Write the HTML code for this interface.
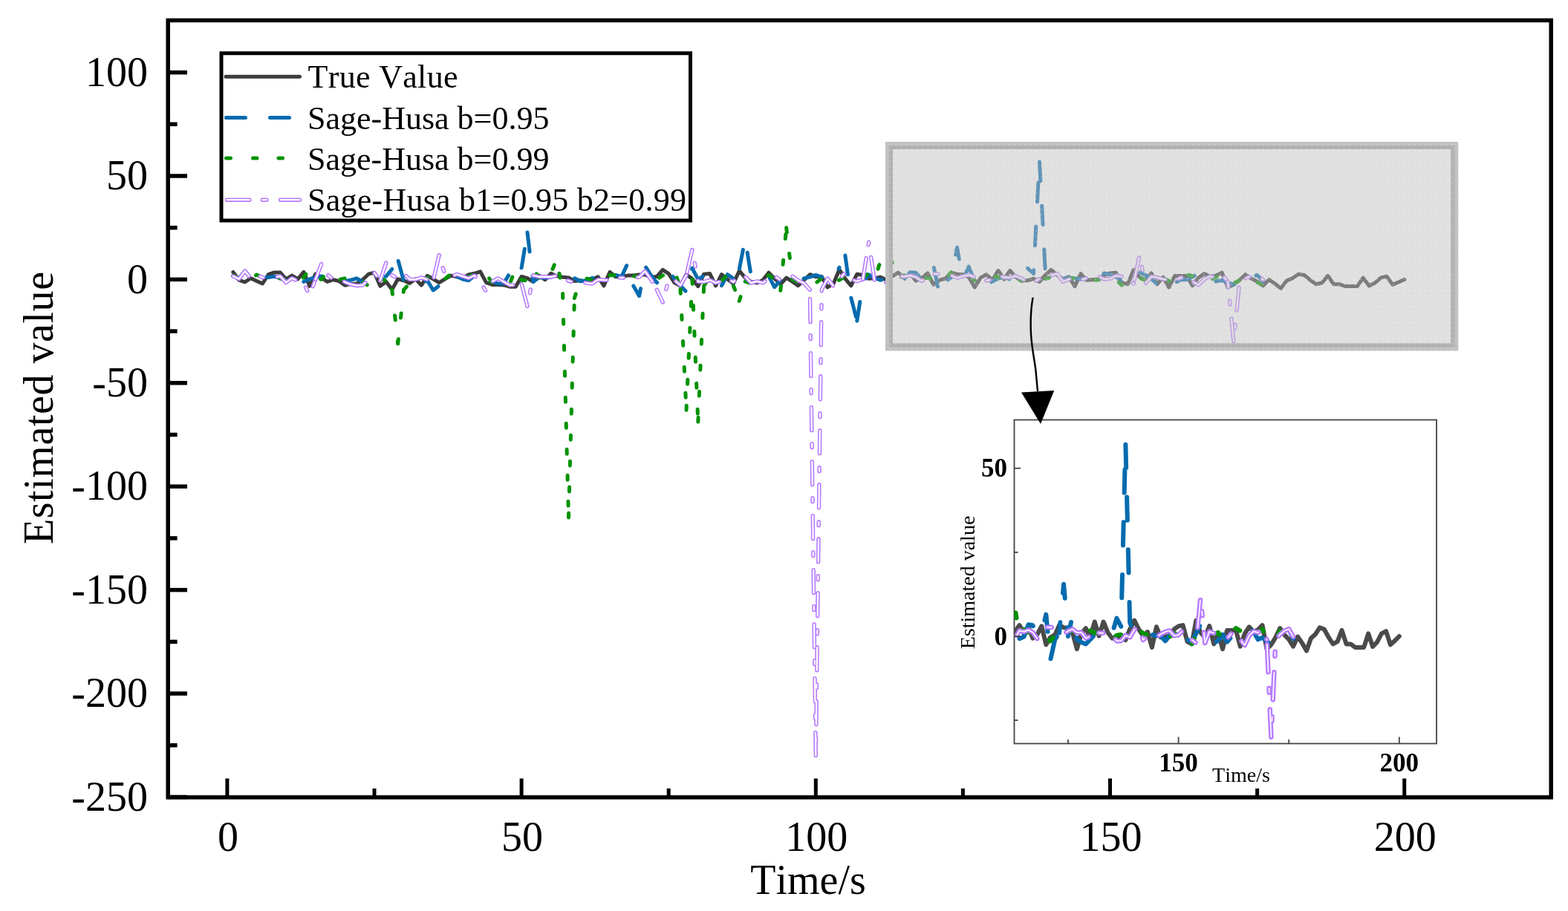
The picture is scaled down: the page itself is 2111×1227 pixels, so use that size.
<!DOCTYPE html><html><head><meta charset="utf-8"><title>Estimated value vs Time</title><style>html,body{margin:0;padding:0;background:#fff;width:2111px;height:1227px;overflow:hidden}svg{display:block}text{font-kerning:none}</style></head><body>
<svg width="2111" height="1227" viewBox="0 0 2111 1227">
<defs><clipPath id="cmain"><rect x="229" y="30" width="1857" height="1041"/></clipPath><clipPath id="cin"><rect x="1365.5" y="565.5" width="568.5" height="436"/></clipPath><pattern id="dots" x="1197.6" y="194.2" width="7.28" height="7.25" patternUnits="userSpaceOnUse"><rect x="0" y="0" width="1.6" height="1.6" fill="#fff" fill-opacity="0.3"/></pattern></defs>
<rect width="2111" height="1227" fill="#fff"/>
<g clip-path="url(#cmain)">
<polyline points="313.8,366.4 321.7,377.2 329.7,380.0 337.6,374.7 345.5,378.4 353.4,382.0 361.4,369.7 369.3,366.9 377.2,366.9 385.1,375.8 393.1,371.1 401.0,375.8 408.9,366.4 416.8,385.3 424.8,369.2 432.7,373.9 440.6,379.5 448.5,376.7 456.5,378.6 464.4,384.2 472.3,382.3 480.2,382.0 488.2,376.7 496.1,369.2 504.0,367.2 511.9,385.3 519.8,379.5 527.8,390.1 535.7,375.8 543.6,377.8 551.5,381.4 559.5,375.8 567.4,384.2 575.3,371.4 583.2,375.8 591.2,380.6 599.1,375.8 607.0,371.1 614.9,372.8 622.9,374.7 630.8,370.0 638.7,368.3 646.6,365.8 654.6,380.6 662.5,383.4 670.4,383.4 678.3,383.9 686.3,386.2 694.2,386.2 702.1,372.5 710.0,374.7 717.9,379.5 725.9,371.1 733.8,376.7 741.7,368.3 749.6,371.9 757.6,373.3 765.5,373.9 773.4,378.6 781.3,377.8 789.3,379.5 797.2,376.7 805.1,372.8 813.0,384.8 821.0,366.4 828.9,372.8 836.8,372.8 844.7,371.1 852.7,371.1 860.6,370.0 868.5,370.0 876.4,373.6 884.4,372.5 892.3,363.3 900.2,368.6 908.1,380.9 916.0,385.0 924.0,369.7 931.9,375.6 939.8,385.6 947.7,369.2 955.7,368.6 963.6,384.8 971.5,369.7 979.4,376.1 987.4,382.0 995.3,364.7 1003.2,374.2 1011.1,379.5 1019.1,380.9 1027.0,377.2 1034.9,367.2 1042.8,375.3 1050.8,382.8 1058.7,374.2 1066.6,379.2 1074.5,384.8 1082.5,377.2 1090.4,369.7 1098.3,372.8 1106.2,372.5 1114.1,387.0 1122.1,382.0 1130.0,363.0 1137.9,375.3 1145.8,384.8 1153.8,369.2 1161.7,370.5 1169.6,375.3 1177.5,374.7 1185.5,373.3 1193.4,377.2 1201.3,372.2 1209.2,367.2 1217.2,374.2 1225.1,368.6 1233.0,378.1 1240.9,375.0 1248.9,368.0 1256.8,383.4 1264.7,377.2 1272.6,375.3 1280.6,367.2 1288.5,369.2 1296.4,369.7 1304.3,373.3 1312.2,387.0 1320.2,374.2 1328.1,369.7 1336.0,377.2 1343.9,364.4 1351.9,376.1 1359.8,364.4 1367.7,373.3 1375.6,378.1 1383.6,377.8 1391.5,375.3 1399.4,379.5 1407.3,370.5 1415.3,363.3 1423.2,370.5 1431.1,376.1 1439.0,372.8 1447.0,385.6 1454.9,368.6 1462.8,377.2 1470.7,376.7 1478.7,376.1 1486.6,370.5 1494.5,368.0 1502.4,367.2 1510.3,380.9 1518.3,382.8 1526.2,363.3 1534.1,373.3 1542.0,377.2 1550.0,367.8 1557.9,382.8 1565.8,373.3 1573.7,387.0 1581.7,371.4 1589.6,371.4 1597.5,371.4 1605.4,384.8 1613.4,374.2 1621.3,368.6 1629.2,372.5 1637.1,371.1 1645.1,367.2 1653.0,387.0 1660.9,383.4 1668.8,377.2 1676.8,369.7 1684.7,375.3 1692.6,378.9 1700.5,384.8 1708.4,376.7 1716.4,382.0 1724.3,388.4 1732.2,378.1 1740.1,374.7 1748.1,369.2 1756.0,370.5 1763.9,377.2 1771.8,382.8 1779.8,380.9 1787.7,371.4 1795.6,382.8 1803.5,382.8 1811.5,385.6 1819.4,385.6 1827.3,385.6 1835.2,374.2 1843.2,385.0 1851.1,381.1 1859.0,374.2 1866.9,372.2 1874.9,383.4 1882.8,380.0 1890.7,376.4" fill="none" stroke="#3c3c3c" stroke-width="5.0" stroke-linejoin="round" stroke-linecap="round"/>
<polyline points="313.8,371.9 321.7,375.0 329.7,365.2 337.6,373.6 345.5,366.4 353.4,371.9 361.4,373.6 369.3,372.2 377.2,375.0 385.1,377.8 393.1,382.5 401.0,372.8 408.9,379.5 416.8,375.8 424.8,373.6 432.7,371.9 440.6,374.7 448.5,371.9 456.5,375.0 464.4,378.6 472.3,377.2 480.2,375.0 488.2,379.5 496.1,375.4 504.0,371.4 511.9,374.2 519.8,372.2 527.8,362.5" stroke="#036baf" stroke-width="5.0" fill="none" stroke-linejoin="round" stroke-linecap="round" stroke-dasharray="26.0 33.0" stroke-dashoffset="0.0"/>
<polyline points="527.8,362.5 535.7,349.6 543.6,378.6 551.5,379.8 559.5,381.2 567.4,382.1 575.3,377.8 583.2,390.9 591.2,384.8 599.1,369.6 607.0,367.5 614.9,372.2 622.9,376.0 630.8,377.8 638.7,371.6 646.6,370.0 654.6,374.0 662.5,378.4 670.4,382.2 678.3,381.4 686.3,368.0 694.2,373.6 702.1,360.8" stroke="#036baf" stroke-width="5.0" fill="none" stroke-linejoin="round" stroke-linecap="round" stroke-dasharray="26.0 33.0" stroke-dashoffset="41.9"/>
<polyline points="702.1,360.8 710.0,313.1" stroke="#036baf" stroke-width="5.0" fill="none" stroke-linejoin="round" stroke-linecap="round" stroke-dasharray="26.0 33.0" stroke-dashoffset="0.0"/>
<polyline points="710.0,313.1 717.9,379.2" stroke="#036baf" stroke-width="5.0" fill="none" stroke-linejoin="round" stroke-linecap="round" stroke-dasharray="26.0 33.0" stroke-dashoffset="0.0"/>
<polyline points="717.9,379.2 725.9,373.7 733.8,374.2 741.7,373.4 749.6,371.0 757.6,371.8 765.5,370.7 773.4,374.6 781.3,378.8 789.3,377.7 797.2,374.6 805.1,370.8 813.0,374.9 821.0,375.5 828.9,370.3 836.8,372.6 844.7,355.5 852.7,384.8 860.6,398.7 868.5,358.3 876.4,370.8 884.4,380.9 892.3,367.0 900.2,365.1 908.1,375.3 916.0,384.8 924.0,393.1 931.9,361.1 939.8,376.4 947.7,371.3 955.7,369.0 963.6,378.8 971.5,384.8 979.4,369.6 987.4,375.1 995.3,362.5" stroke="#036baf" stroke-width="5.0" fill="none" stroke-linejoin="round" stroke-linecap="round" stroke-dasharray="26.0 33.0" stroke-dashoffset="0.0"/>
<polyline points="995.3,362.5 1003.2,322.0 1011.1,370.8 1019.1,369.1 1027.0,373.5 1034.9,372.0 1042.8,386.7 1050.8,377.2 1058.7,379.8 1066.6,376.0 1074.5,376.1 1082.5,374.9 1090.4,373.1 1098.3,370.4 1106.2,373.0 1114.1,378.2 1122.1,376.6 1130.0,360.2" stroke="#036baf" stroke-width="5.0" fill="none" stroke-linejoin="round" stroke-linecap="round" stroke-dasharray="26.0 33.0" stroke-dashoffset="58.4"/>
<polyline points="1130.0,360.2 1137.9,344.1" stroke="#036baf" stroke-width="5.0" fill="none" stroke-linejoin="round" stroke-linecap="round" stroke-dasharray="26.0 33.0" stroke-dashoffset="32.0"/>
<polyline points="1137.9,344.1 1145.8,401.2" stroke="#036baf" stroke-width="5.0" fill="none" stroke-linejoin="round" stroke-linecap="round" stroke-dasharray="26.0 33.0" stroke-dashoffset="0.0"/>
<polyline points="1145.8,401.2 1153.8,432.2" stroke="#036baf" stroke-width="5.0" fill="none" stroke-linejoin="round" stroke-linecap="round" stroke-dasharray="26.0 33.0" stroke-dashoffset="0.0"/>
<polyline points="1153.8,432.2 1161.7,380.6 1169.6,369.9 1177.5,374.4 1185.5,377.3 1193.4,374.3 1201.3,374.4 1209.2,378.4 1217.2,376.7 1225.1,366.7 1233.0,367.3 1240.9,376.3 1248.9,373.6 1256.8,358.3 1264.7,395.9 1272.6,379.2 1280.6,373.6" stroke="#036baf" stroke-width="5.0" fill="none" stroke-linejoin="round" stroke-linecap="round" stroke-dasharray="26.0 33.0" stroke-dashoffset="0.0"/>
<polyline points="1280.6,373.6 1288.5,333.2 1296.4,376.4 1304.3,359.1 1312.2,379.2 1320.2,381.3 1328.1,382.8 1336.0,379.2 1343.9,375.0 1351.9,373.3 1359.8,376.4 1367.7,377.9 1375.6,374.2 1383.6,361.3 1391.5,368.3" stroke="#036baf" stroke-width="5.0" fill="none" stroke-linejoin="round" stroke-linecap="round" stroke-dasharray="26.0 33.0" stroke-dashoffset="27.8"/>
<polyline points="1391.5,368.3 1399.4,215.5 1407.3,365.2 1415.3,373.6 1423.2,371.7 1431.1,375.2 1439.0,374.1 1447.0,375.1 1454.9,375.9 1462.8,376.1 1470.7,380.3 1478.7,375.9 1486.6,367.9 1494.5,369.6 1502.4,373.0 1510.3,378.9 1518.3,381.8 1526.2,373.7 1534.1,366.6 1542.0,370.4 1550.0,375.4 1557.9,383.0 1565.8,379.6 1573.7,374.9 1581.7,381.1 1589.6,376.8 1597.5,376.8 1605.4,373.1 1613.4,367.8 1621.3,369.9 1629.2,372.3 1637.1,379.0 1645.1,377.5 1653.0,380.5 1660.9,383.4 1668.8,382.0 1676.8,381.6 1684.7,373.6 1692.6,370.4 1700.5,378.4" stroke="#036baf" stroke-width="5.0" fill="none" stroke-linejoin="round" stroke-linecap="round" stroke-dasharray="26.0 33.0" stroke-dashoffset="21.5"/>
<polyline points="313.8,371.1 321.7,375.0 329.7,372.2 337.6,376.4 345.5,370.0 353.4,373.6 361.4,374.7 369.3,371.1 377.2,375.0 385.1,376.4 393.1,378.6 401.0,380.6 408.9,373.6 416.8,362.5 424.8,373.6 432.7,376.4 440.6,366.4 448.5,373.6 456.5,376.4 464.4,375.0 472.3,380.6 480.2,376.4 488.2,379.2 496.1,385.3 504.0,370.7 511.9,374.2 519.8,378.4 527.8,390.3" stroke="#009200" stroke-width="5.0" fill="none" stroke-linejoin="round" stroke-linecap="round" stroke-dasharray="6.0 29.0" stroke-dashoffset="0.0"/>
<polyline points="527.8,390.3 535.7,462.8" stroke="#009200" stroke-width="5.0" fill="none" stroke-linejoin="round" stroke-linecap="round" stroke-dasharray="6.0 29.0" stroke-dashoffset="0.0"/>
<polyline points="535.7,462.8 543.6,390.3" stroke="#009200" stroke-width="5.0" fill="none" stroke-linejoin="round" stroke-linecap="round" stroke-dasharray="6.0 29.0" stroke-dashoffset="0.0"/>
<polyline points="543.6,390.3 551.5,381.4 559.5,372.3 567.4,374.3 575.3,375.1 583.2,368.2 591.2,375.2 599.1,375.7 607.0,368.9 614.9,371.4 622.9,376.9 630.8,372.8 638.7,369.0 646.6,365.5 654.6,368.6 662.5,381.1 670.4,383.0 678.3,383.3 686.3,382.2 694.2,361.6 702.1,377.3 710.0,377.9 717.9,361.9 725.9,374.6 733.8,363.9 741.7,368.0 749.6,348.5 757.6,395.4" stroke="#009200" stroke-width="5.0" fill="none" stroke-linejoin="round" stroke-linecap="round" stroke-dasharray="6.0 29.0" stroke-dashoffset="0.0"/>
<polyline points="757.6,395.4 765.5,697.1" stroke="#009200" stroke-width="5.0" fill="none" stroke-linejoin="round" stroke-linecap="round" stroke-dasharray="6.0 29.0" stroke-dashoffset="0.0"/>
<polyline points="765.5,697.1 773.4,401.5" stroke="#009200" stroke-width="5.0" fill="none" stroke-linejoin="round" stroke-linecap="round" stroke-dasharray="6.0 29.0" stroke-dashoffset="0.0"/>
<polyline points="773.4,401.5 781.3,376.4 789.3,375.1 797.2,376.9 805.1,377.8 813.0,379.0 821.0,370.4 828.9,370.9 836.8,376.0 844.7,374.2 852.7,371.8 860.6,372.9 868.5,375.7 876.4,376.4 884.4,376.1 892.3,370.9 900.2,368.6 908.1,363.0 916.0,389.5" stroke="#009200" stroke-width="5.0" fill="none" stroke-linejoin="round" stroke-linecap="round" stroke-dasharray="6.0 29.0" stroke-dashoffset="0.0"/>
<polyline points="916.0,389.5 924.0,552.3" stroke="#009200" stroke-width="5.0" fill="none" stroke-linejoin="round" stroke-linecap="round" stroke-dasharray="6.0 29.0" stroke-dashoffset="0.0"/>
<polyline points="924.0,552.3 931.9,376.4" stroke="#009200" stroke-width="5.0" fill="none" stroke-linejoin="round" stroke-linecap="round" stroke-dasharray="6.0 29.0" stroke-dashoffset="0.0"/>
<polyline points="931.9,376.4 939.8,568.2" stroke="#009200" stroke-width="5.0" fill="none" stroke-linejoin="round" stroke-linecap="round" stroke-dasharray="6.0 29.0" stroke-dashoffset="0.0"/>
<polyline points="939.8,568.2 947.7,384.8" stroke="#009200" stroke-width="5.0" fill="none" stroke-linejoin="round" stroke-linecap="round" stroke-dasharray="6.0 29.0" stroke-dashoffset="0.0"/>
<polyline points="947.7,384.8 955.7,373.2 963.6,380.8 971.5,378.2 979.4,370.1 987.4,384.8" stroke="#009200" stroke-width="5.0" fill="none" stroke-linejoin="round" stroke-linecap="round" stroke-dasharray="6.0 29.0" stroke-dashoffset="0.0"/>
<polyline points="987.4,384.8 995.3,405.4" stroke="#009200" stroke-width="5.0" fill="none" stroke-linejoin="round" stroke-linecap="round" stroke-dasharray="6.0 29.0" stroke-dashoffset="0.0"/>
<polyline points="995.3,405.4 1003.2,379.2" stroke="#009200" stroke-width="5.0" fill="none" stroke-linejoin="round" stroke-linecap="round" stroke-dasharray="6.0 29.0" stroke-dashoffset="0.0"/>
<polyline points="1003.2,379.2 1011.1,381.7 1019.1,381.8 1027.0,374.6 1034.9,370.6 1042.8,376.4 1050.8,391.2" stroke="#009200" stroke-width="5.0" fill="none" stroke-linejoin="round" stroke-linecap="round" stroke-dasharray="6.0 29.0" stroke-dashoffset="0.0"/>
<polyline points="1050.8,391.2 1058.7,306.7" stroke="#009200" stroke-width="5.0" fill="none" stroke-linejoin="round" stroke-linecap="round" stroke-dasharray="6.0 29.0" stroke-dashoffset="0.0"/>
<polyline points="1058.7,306.7 1066.6,376.4" stroke="#009200" stroke-width="5.0" fill="none" stroke-linejoin="round" stroke-linecap="round" stroke-dasharray="6.0 29.0" stroke-dashoffset="0.0"/>
<polyline points="1066.6,376.4 1074.5,380.2 1082.5,382.1 1090.4,383.0 1098.3,381.1 1106.2,375.1 1114.1,375.3 1122.1,381.9 1130.0,377.1 1137.9,372.3 1145.8,373.8 1153.8,375.3 1161.7,373.7 1169.6,368.1 1177.5,376.4 1185.5,351.3 1193.4,340.2 1201.3,354.1 1209.2,376.4 1217.2,370.6 1225.1,373.7 1233.0,375.9 1240.9,375.6 1248.9,374.2 1256.8,377.2 1264.7,380.3 1272.6,375.3 1280.6,366.8 1288.5,370.0 1296.4,372.4 1304.3,371.1 1312.2,377.6 1320.2,378.8 1328.1,373.7 1336.0,371.6 1343.9,373.6 1351.9,373.3 1359.8,371.0 1367.7,375.2 1375.6,378.4 1383.6,375.6 1391.5,374.9 1399.4,376.2 1407.3,375.5 1415.3,373.0 1423.2,369.8 1431.1,374.3 1439.0,374.9 1447.0,374.6 1454.9,376.4 1462.8,375.4 1470.7,377.7 1478.7,376.9 1486.6,374.6 1494.5,372.7 1502.4,376.2 1510.3,384.3 1518.3,383.3 1526.2,375.0 1534.1,374.5 1542.0,377.2 1550.0,377.0 1557.9,374.5 1565.8,373.5 1573.7,378.6 1581.7,380.5 1589.6,373.8 1597.5,369.6 1605.4,371.9 1613.4,372.3 1621.3,373.2 1629.2,377.7 1637.1,373.4 1645.1,370.5 1653.0,378.3 1660.9,381.6 1668.8,377.5 1676.8,372.1 1684.7,375.1 1692.6,380.4 1700.5,384.6" stroke="#009200" stroke-width="5.0" fill="none" stroke-linejoin="round" stroke-linecap="round" stroke-dasharray="6.0 29.0" stroke-dashoffset="0.0"/>
<polyline points="313.8,371.9 321.7,375.8 329.7,365.0 337.6,374.7 345.5,370.0 353.4,373.9 361.4,372.2 369.3,373.9 377.2,371.9 385.1,380.6 393.1,374.7 401.0,378.6 408.9,382.0 416.8,397.3 424.8,376.4" stroke="#b87bff" stroke-width="5.4" fill="none" stroke-linejoin="round" stroke-linecap="round" stroke-dasharray="31.0 18.0 5.0 19.0" stroke-dashoffset="0.0"/>
<polyline points="313.8,371.9 321.7,375.8 329.7,365.0 337.6,374.7 345.5,370.0 353.4,373.9 361.4,372.2 369.3,373.9 377.2,371.9 385.1,380.6 393.1,374.7 401.0,378.6 408.9,382.0 416.8,397.3 424.8,376.4" stroke="#fff" stroke-width="2.2" fill="none" stroke-linejoin="round" stroke-linecap="round" stroke-dasharray="31.0 18.0 5.0 19.0" stroke-dashoffset="0.0"/>
<polyline points="424.8,376.4 432.7,355.5 440.6,370.0 448.5,376.1 456.5,376.0 464.4,379.9 472.3,383.0 480.2,384.7 488.2,384.1 496.1,376.4 504.0,367.4 511.9,377.8" stroke="#b87bff" stroke-width="5.4" fill="none" stroke-linejoin="round" stroke-linecap="round" stroke-dasharray="31.0 18.0 5.0 19.0" stroke-dashoffset="8.6"/>
<polyline points="424.8,376.4 432.7,355.5 440.6,370.0 448.5,376.1 456.5,376.0 464.4,379.9 472.3,383.0 480.2,384.7 488.2,384.1 496.1,376.4 504.0,367.4 511.9,377.8" stroke="#fff" stroke-width="2.2" fill="none" stroke-linejoin="round" stroke-linecap="round" stroke-dasharray="31.0 18.0 5.0 19.0" stroke-dashoffset="8.6"/>
<polyline points="511.9,377.8 519.8,354.1 527.8,370.8 535.7,375.2 543.6,368.6 551.5,376.3 559.5,376.4 567.4,373.9 575.3,376.5 583.2,377.8" stroke="#b87bff" stroke-width="5.4" fill="none" stroke-linejoin="round" stroke-linecap="round" stroke-dasharray="31.0 18.0 5.0 19.0" stroke-dashoffset="6.0"/>
<polyline points="511.9,377.8 519.8,354.1 527.8,370.8 535.7,375.2 543.6,368.6 551.5,376.3 559.5,376.4 567.4,373.9 575.3,376.5 583.2,377.8" stroke="#fff" stroke-width="2.2" fill="none" stroke-linejoin="round" stroke-linecap="round" stroke-dasharray="31.0 18.0 5.0 19.0" stroke-dashoffset="6.0"/>
<polyline points="583.2,377.8 591.2,343.5 599.1,370.8 607.0,372.9 614.9,369.4 622.9,372.1 630.8,374.8 638.7,371.1 646.6,379.2 654.6,393.1 662.5,379.2 670.4,374.9 678.3,379.5 686.3,384.1 694.2,383.7 702.1,382.0" stroke="#b87bff" stroke-width="5.4" fill="none" stroke-linejoin="round" stroke-linecap="round" stroke-dasharray="31.0 18.0 5.0 19.0" stroke-dashoffset="68.8"/>
<polyline points="583.2,377.8 591.2,343.5 599.1,370.8 607.0,372.9 614.9,369.4 622.9,372.1 630.8,374.8 638.7,371.1 646.6,379.2 654.6,393.1 662.5,379.2 670.4,374.9 678.3,379.5 686.3,384.1 694.2,383.7 702.1,382.0" stroke="#fff" stroke-width="2.2" fill="none" stroke-linejoin="round" stroke-linecap="round" stroke-dasharray="31.0 18.0 5.0 19.0" stroke-dashoffset="68.8"/>
<polyline points="702.1,382.0 710.0,412.6 717.9,370.8 725.9,372.8 733.8,372.7 741.7,373.2 749.6,371.1 757.6,374.3 765.5,378.3 773.4,380.4 781.3,379.1 789.3,381.1 797.2,382.1 805.1,376.7 813.0,377.2 821.0,377.3 828.9,374.5 836.8,373.9 844.7,374.8 852.7,374.3 860.6,373.2 868.5,365.2 876.4,376.4 884.4,390.3" stroke="#b87bff" stroke-width="5.4" fill="none" stroke-linejoin="round" stroke-linecap="round" stroke-dasharray="31.0 18.0 5.0 19.0" stroke-dashoffset="72.3"/>
<polyline points="702.1,382.0 710.0,412.6 717.9,370.8 725.9,372.8 733.8,372.7 741.7,373.2 749.6,371.1 757.6,374.3 765.5,378.3 773.4,380.4 781.3,379.1 789.3,381.1 797.2,382.1 805.1,376.7 813.0,377.2 821.0,377.3 828.9,374.5 836.8,373.9 844.7,374.8 852.7,374.3 860.6,373.2 868.5,365.2 876.4,376.4 884.4,390.3" stroke="#fff" stroke-width="2.2" fill="none" stroke-linejoin="round" stroke-linecap="round" stroke-dasharray="31.0 18.0 5.0 19.0" stroke-dashoffset="72.3"/>
<polyline points="884.4,390.3 892.3,407.1 900.2,376.4 908.1,377.1 916.0,384.3 924.0,370.8" stroke="#b87bff" stroke-width="5.4" fill="none" stroke-linejoin="round" stroke-linecap="round" stroke-dasharray="31.0 18.0 5.0 19.0" stroke-dashoffset="12.5"/>
<polyline points="884.4,390.3 892.3,407.1 900.2,376.4 908.1,377.1 916.0,384.3 924.0,370.8" stroke="#fff" stroke-width="2.2" fill="none" stroke-linejoin="round" stroke-linecap="round" stroke-dasharray="31.0 18.0 5.0 19.0" stroke-dashoffset="12.5"/>
<polyline points="924.0,370.8 931.9,336.5 939.8,379.2 947.7,379.6 955.7,377.3 963.6,381.0 971.5,378.6 979.4,375.7 987.4,379.7 995.3,370.7 1003.2,372.5 1011.1,381.1 1019.1,378.9 1027.0,381.0 1034.9,374.9 1042.8,371.6 1050.8,377.4 1058.7,375.2 1066.6,371.9 1074.5,377.6 1082.5,381.5 1090.4,390.3" stroke="#b87bff" stroke-width="5.4" fill="none" stroke-linejoin="round" stroke-linecap="round" stroke-dasharray="31.0 18.0 5.0 19.0" stroke-dashoffset="68.8"/>
<polyline points="924.0,370.8 931.9,336.5 939.8,379.2 947.7,379.6 955.7,377.3 963.6,381.0 971.5,378.6 979.4,375.7 987.4,379.7 995.3,370.7 1003.2,372.5 1011.1,381.1 1019.1,378.9 1027.0,381.0 1034.9,374.9 1042.8,371.6 1050.8,377.4 1058.7,375.2 1066.6,371.9 1074.5,377.6 1082.5,381.5 1090.4,390.3" stroke="#fff" stroke-width="2.2" fill="none" stroke-linejoin="round" stroke-linecap="round" stroke-dasharray="31.0 18.0 5.0 19.0" stroke-dashoffset="68.8"/>
<polyline points="1090.4,390.3 1098.3,1017.7 1106.2,390.3 1114.1,375.0 1122.1,385.5 1130.0,376.3 1137.9,366.8 1145.8,376.4 1153.8,378.7 1161.7,376.4" stroke="#b87bff" stroke-width="5.4" fill="none" stroke-linejoin="round" stroke-linecap="round" stroke-dasharray="31.0 18.0 5.0 19.0" stroke-dashoffset="60.6"/>
<polyline points="1090.4,390.3 1098.3,1017.7 1106.2,390.3 1114.1,375.0 1122.1,385.5 1130.0,376.3 1137.9,366.8 1145.8,376.4 1153.8,378.7 1161.7,376.4" stroke="#fff" stroke-width="2.2" fill="none" stroke-linejoin="round" stroke-linecap="round" stroke-dasharray="31.0 18.0 5.0 19.0" stroke-dashoffset="60.6"/>
<polyline points="1161.7,376.4 1169.6,326.2 1177.5,379.2 1185.5,377.9 1193.4,380.8 1201.3,377.9 1209.2,371.6 1217.2,372.7 1225.1,371.1 1233.0,373.1 1240.9,378.5 1248.9,372.3 1256.8,368.9 1264.7,368.9 1272.6,369.5 1280.6,370.9 1288.5,374.4 1296.4,372.1 1304.3,370.4 1312.2,373.3 1320.2,373.2 1328.1,378.0 1336.0,376.5 1343.9,370.3 1351.9,373.7 1359.8,373.7 1367.7,371.7 1375.6,375.1 1383.6,380.4 1391.5,380.2 1399.4,375.7 1407.3,377.2 1415.3,370.9 1423.2,368.5 1431.1,379.4 1439.0,376.1 1447.0,375.0 1454.9,377.3 1462.8,374.6 1470.7,372.6 1478.7,371.8 1486.6,376.0 1494.5,375.3 1502.4,371.5 1510.3,372.3 1518.3,379.3 1526.2,382.0" stroke="#b87bff" stroke-width="5.4" fill="none" stroke-linejoin="round" stroke-linecap="round" stroke-dasharray="31.0 18.0 5.0 19.0" stroke-dashoffset="1.8"/>
<polyline points="1161.7,376.4 1169.6,326.2 1177.5,379.2 1185.5,377.9 1193.4,380.8 1201.3,377.9 1209.2,371.6 1217.2,372.7 1225.1,371.1 1233.0,373.1 1240.9,378.5 1248.9,372.3 1256.8,368.9 1264.7,368.9 1272.6,369.5 1280.6,370.9 1288.5,374.4 1296.4,372.1 1304.3,370.4 1312.2,373.3 1320.2,373.2 1328.1,378.0 1336.0,376.5 1343.9,370.3 1351.9,373.7 1359.8,373.7 1367.7,371.7 1375.6,375.1 1383.6,380.4 1391.5,380.2 1399.4,375.7 1407.3,377.2 1415.3,370.9 1423.2,368.5 1431.1,379.4 1439.0,376.1 1447.0,375.0 1454.9,377.3 1462.8,374.6 1470.7,372.6 1478.7,371.8 1486.6,376.0 1494.5,375.3 1502.4,371.5 1510.3,372.3 1518.3,379.3 1526.2,382.0" stroke="#fff" stroke-width="2.2" fill="none" stroke-linejoin="round" stroke-linecap="round" stroke-dasharray="31.0 18.0 5.0 19.0" stroke-dashoffset="1.8"/>
<polyline points="1526.2,382.0 1534.1,344.3 1542.0,382.0 1550.0,372.5 1557.9,373.7 1565.8,375.9 1573.7,377.0 1581.7,378.2 1589.6,374.0 1597.5,372.2 1605.4,379.1 1613.4,383.8 1621.3,375.9 1629.2,372.3 1637.1,373.3 1645.1,370.1 1653.0,379.2" stroke="#b87bff" stroke-width="5.4" fill="none" stroke-linejoin="round" stroke-linecap="round" stroke-dasharray="31.0 18.0 5.0 19.0" stroke-dashoffset="68.2"/>
<polyline points="1526.2,382.0 1534.1,344.3 1542.0,382.0 1550.0,372.5 1557.9,373.7 1565.8,375.9 1573.7,377.0 1581.7,378.2 1589.6,374.0 1597.5,372.2 1605.4,379.1 1613.4,383.8 1621.3,375.9 1629.2,372.3 1637.1,373.3 1645.1,370.1 1653.0,379.2" stroke="#fff" stroke-width="2.2" fill="none" stroke-linejoin="round" stroke-linecap="round" stroke-dasharray="31.0 18.0 5.0 19.0" stroke-dashoffset="68.2"/>
<polyline points="1653.0,379.2 1660.9,460.0 1668.8,379.2 1676.8,375.0 1684.7,371.8 1692.6,370.4 1700.5,376.8" stroke="#b87bff" stroke-width="5.4" fill="none" stroke-linejoin="round" stroke-linecap="round" stroke-dasharray="31.0 18.0 5.0 19.0" stroke-dashoffset="22.8"/>
<polyline points="1653.0,379.2 1660.9,460.0 1668.8,379.2 1676.8,375.0 1684.7,371.8 1692.6,370.4 1700.5,376.8" stroke="#fff" stroke-width="2.2" fill="none" stroke-linejoin="round" stroke-linecap="round" stroke-dasharray="31.0 18.0 5.0 19.0" stroke-dashoffset="22.8"/>
</g>
<rect x="1197" y="196" width="761.3" height="271.5" fill="#c0c0c0" fill-opacity="0.49" stroke="#c1c1c1" stroke-width="10"/>
<rect x="1199.5" y="198.5" width="756.3" height="266.5" fill="none" stroke="#b1b1b1" stroke-width="5"/>
<rect x="1192" y="191" width="771.3" height="281.5" fill="url(#dots)"/>
<rect x="226.2" y="27.4" width="1862" height="1046.5" fill="none" stroke="#000" stroke-width="5.5"/>
<line x1="226" y1="1073.5" x2="252" y2="1073.5" stroke="#000" stroke-width="5.5"/>
<line x1="226" y1="1003.8" x2="238.6" y2="1003.8" stroke="#000" stroke-width="5.5"/>
<line x1="226" y1="934.1" x2="252" y2="934.1" stroke="#000" stroke-width="5.5"/>
<line x1="226" y1="864.4" x2="238.6" y2="864.4" stroke="#000" stroke-width="5.5"/>
<line x1="226" y1="794.6" x2="252" y2="794.6" stroke="#000" stroke-width="5.5"/>
<line x1="226" y1="724.9" x2="238.6" y2="724.9" stroke="#000" stroke-width="5.5"/>
<line x1="226" y1="655.2" x2="252" y2="655.2" stroke="#000" stroke-width="5.5"/>
<line x1="226" y1="585.5" x2="238.6" y2="585.5" stroke="#000" stroke-width="5.5"/>
<line x1="226" y1="515.8" x2="252" y2="515.8" stroke="#000" stroke-width="5.5"/>
<line x1="226" y1="446.1" x2="238.6" y2="446.1" stroke="#000" stroke-width="5.5"/>
<line x1="226" y1="376.4" x2="252" y2="376.4" stroke="#000" stroke-width="5.5"/>
<line x1="226" y1="306.7" x2="238.6" y2="306.7" stroke="#000" stroke-width="5.5"/>
<line x1="226" y1="237.0" x2="252" y2="237.0" stroke="#000" stroke-width="5.5"/>
<line x1="226" y1="167.3" x2="238.6" y2="167.3" stroke="#000" stroke-width="5.5"/>
<line x1="226" y1="97.6" x2="252" y2="97.6" stroke="#000" stroke-width="5.5"/>
<line x1="305.9" y1="1073.7" x2="305.9" y2="1048.5" stroke="#000" stroke-width="5"/>
<line x1="504.0" y1="1073.7" x2="504.0" y2="1062" stroke="#000" stroke-width="5"/>
<line x1="702.1" y1="1073.7" x2="702.1" y2="1048.5" stroke="#000" stroke-width="5"/>
<line x1="900.2" y1="1073.7" x2="900.2" y2="1062" stroke="#000" stroke-width="5"/>
<line x1="1098.3" y1="1073.7" x2="1098.3" y2="1048.5" stroke="#000" stroke-width="5"/>
<line x1="1296.4" y1="1073.7" x2="1296.4" y2="1062" stroke="#000" stroke-width="5"/>
<line x1="1494.5" y1="1073.7" x2="1494.5" y2="1048.5" stroke="#000" stroke-width="5"/>
<line x1="1692.6" y1="1073.7" x2="1692.6" y2="1062" stroke="#000" stroke-width="5"/>
<line x1="1890.7" y1="1073.7" x2="1890.7" y2="1048.5" stroke="#000" stroke-width="5"/>
<g font-family="'Liberation Serif','Times New Roman',serif" font-size="56" fill="#000" text-anchor="end">
<text x="199" y="115.8">100</text>
<text x="199" y="255.2">50</text>
<text x="199" y="394.6">0</text>
<text x="199" y="534.0">-50</text>
<text x="199" y="673.4">-100</text>
<text x="199" y="812.8">-150</text>
<text x="199" y="952.3">-200</text>
<text x="199" y="1091.7">-250</text>
</g>
<g font-family="'Liberation Serif','Times New Roman',serif" font-size="56" fill="#000" text-anchor="middle">
<text x="306.9" y="1145.5">0</text>
<text x="703.1" y="1145.5">50</text>
<text x="1099.3" y="1145.5">100</text>
<text x="1495.5" y="1145.5">150</text>
<text x="1891.7" y="1145.5">200</text>
<text x="1088" y="1204">Time/s</text>
<text transform="translate(70.5,549.5) rotate(-90)" textLength="367" lengthAdjust="spacing">Estimated value</text>
</g>
<rect x="298" y="71.7" width="631.5" height="225.3" fill="#fff" stroke="#000" stroke-width="5"/>
<line x1="304" y1="103.3" x2="403.5" y2="103.3" stroke="#3c3c3c" stroke-width="5" stroke-linecap="round"/>
<path d="M304.5 158.5H330.5M363.5 158.5H389.5" stroke="#036baf" stroke-width="5" stroke-linecap="round"/>
<path d="M304.5 213H310.5M340.5 213H346M375 213H380.5" stroke="#009200" stroke-width="5" stroke-linecap="round"/>
<path d="M305.3 269.2H336M353.3 269.2H359M377.5 269.2H403.6" stroke="#b87bff" stroke-width="5.4" stroke-linecap="round"/>
<path d="M305.3 269.2H336M353.3 269.2H359M377.5 269.2H403.6" stroke="#fff" stroke-width="2.2" stroke-linecap="round"/>
<g font-family="'Liberation Serif','Times New Roman',serif" font-size="44" fill="#000">
<text x="414.5" y="118.2" textLength="202" lengthAdjust="spacing">True Value</text>
<text x="414" y="174">Sage-Husa b=0.95</text>
<text x="414" y="228.7">Sage-Husa b=0.99</text>
<text x="414" y="283.5" textLength="510" lengthAdjust="spacing">Sage-Husa b1=0.95 b2=0.99</text>
</g>
<rect x="1365.5" y="565.5" width="568.5" height="436" fill="#fff" stroke="#444" stroke-width="1.8"/>
<g clip-path="url(#cin)">
<polyline points="700.9,840.7 706.9,858.4 712.8,862.9 718.8,854.3 724.7,860.2 730.7,866.1 736.6,846.1 742.6,841.6 748.5,841.6 754.4,856.1 760.4,848.4 766.3,856.1 772.3,840.7 778.2,871.5 784.2,845.2 790.1,852.9 796.0,862.0 802.0,857.5 807.9,860.6 813.9,869.7 819.8,866.5 825.8,866.1 831.7,857.5 837.7,845.2 843.6,842.1 849.5,871.5 855.5,862.0 861.4,879.2 867.4,856.1 873.3,859.3 879.3,865.1 885.2,856.1 891.2,869.7 897.1,848.9 903.0,856.1 909.0,863.8 914.9,856.1 920.9,848.4 926.8,851.1 932.8,854.3 938.7,846.6 944.6,843.9 950.6,839.8 956.5,863.8 962.5,868.3 968.4,868.3 974.4,869.2 980.3,872.8 986.3,872.8 992.2,850.7 998.1,854.3 1004.1,862.0 1010.0,848.4 1016.0,857.5 1021.9,843.9 1027.9,849.8 1033.8,852.0 1039.8,852.9 1045.7,860.6 1051.6,859.3 1057.6,862.0 1063.5,857.5 1069.5,851.1 1075.4,870.6 1081.4,840.7 1087.3,851.1 1093.2,851.1 1099.2,848.4 1105.1,848.4 1111.1,846.6 1117.0,846.6 1123.0,852.5 1128.9,850.7 1134.9,835.7 1140.8,844.3 1146.7,864.2 1152.7,871.0 1158.6,846.1 1164.6,855.6 1170.5,871.9 1176.5,845.2 1182.4,844.3 1188.4,870.6 1194.3,846.1 1200.2,856.5 1206.2,866.1 1212.1,838.0 1218.1,853.4 1224.0,862.0 1230.0,864.2 1235.9,858.4 1241.8,842.1 1247.8,855.2 1253.7,867.4 1259.7,853.4 1265.6,861.5 1271.6,870.6 1277.5,858.4 1283.5,846.1 1289.4,851.1 1295.3,850.7 1301.3,874.2 1307.2,866.1 1313.2,835.3 1319.1,855.2 1325.1,870.6 1331.0,845.2 1337.0,847.5 1342.9,855.2 1348.8,854.3 1354.8,852.0 1360.7,858.4 1366.7,850.2 1372.6,842.1 1378.6,853.4 1384.5,844.3 1390.4,859.7 1396.4,854.7 1402.3,843.4 1408.3,868.3 1414.2,858.4 1420.2,855.2 1426.1,842.1 1432.1,845.2 1438.0,846.1 1443.9,852.0 1449.9,874.2 1455.8,853.4 1461.8,846.1 1467.7,858.4 1473.7,837.5 1479.6,856.5 1485.6,837.5 1491.5,852.0 1497.4,859.7 1503.4,859.3 1509.3,855.2 1515.3,862.0 1521.2,847.5 1527.2,835.7 1533.1,847.5 1539.0,856.5 1545.0,851.1 1550.9,871.9 1556.9,844.3 1562.8,858.4 1568.8,857.5 1574.7,856.5 1580.7,847.5 1586.6,843.4 1592.5,842.1 1598.5,864.2 1604.4,867.4 1610.4,835.7 1616.3,852.0 1622.3,858.4 1628.2,843.0 1634.2,867.4 1640.1,852.0 1646.0,874.2 1652.0,848.9 1657.9,848.9 1663.9,848.9 1669.8,870.6 1675.8,853.4 1681.7,844.3 1687.6,850.7 1693.6,848.4 1699.5,842.1 1705.5,874.2 1711.4,868.3 1717.4,858.4 1723.3,846.1 1729.3,855.2 1735.2,861.1 1741.1,870.6 1747.1,857.5 1753.0,866.1 1759.0,876.5 1764.9,859.7 1770.9,854.3 1776.8,845.2 1782.8,847.5 1788.7,858.4 1794.6,867.4 1800.6,864.2 1806.5,848.9 1812.5,867.4 1818.4,867.4 1824.4,871.9 1830.3,871.9 1836.2,871.9 1842.2,853.4 1848.1,871.0 1854.1,864.7 1860.0,853.4 1866.0,850.2 1871.9,868.3 1877.9,862.9 1883.8,857.0" fill="none" stroke="#4a4a4a" stroke-width="6.0" stroke-linejoin="round" stroke-linecap="round"/>
<polyline points="700.9,849.8 706.9,854.7 712.8,838.9 718.8,852.5 724.7,840.7 730.7,849.8 736.6,852.5 742.6,850.2 748.5,854.7 754.4,859.3 760.4,867.0 766.3,851.1 772.3,862.0 778.2,856.1 784.2,852.5 790.1,849.8 796.0,854.3 802.0,849.8 807.9,854.7 813.9,860.6 819.8,858.4 825.8,854.7 831.7,862.0 837.7,855.4 843.6,848.9 849.5,853.4 855.5,850.2 861.4,834.4" stroke="#036baf" stroke-width="6.0" fill="none" stroke-linejoin="round" stroke-linecap="round" stroke-dasharray="31.2 39.6" stroke-dashoffset="0.0"/>
<polyline points="861.4,834.4 867.4,813.6 873.3,860.6 879.3,862.5 885.2,864.8 891.2,866.2 897.1,859.3 903.0,880.5 909.0,870.6 914.9,845.9 920.9,842.6 926.8,850.1 932.8,856.4 938.7,859.2 944.6,849.2 950.6,846.6 956.5,853.1 962.5,860.3 968.4,866.5 974.4,865.1 980.3,843.4 986.3,852.5 992.2,831.7" stroke="#036baf" stroke-width="6.0" fill="none" stroke-linejoin="round" stroke-linecap="round" stroke-dasharray="31.2 39.6" stroke-dashoffset="46.7"/>
<polyline points="992.2,831.7 998.1,754.3" stroke="#036baf" stroke-width="6.0" fill="none" stroke-linejoin="round" stroke-linecap="round" stroke-dasharray="31.2 39.6" stroke-dashoffset="0.0"/>
<polyline points="998.1,754.3 1004.1,861.5" stroke="#036baf" stroke-width="6.0" fill="none" stroke-linejoin="round" stroke-linecap="round" stroke-dasharray="31.2 39.6" stroke-dashoffset="0.0"/>
<polyline points="1004.1,861.5 1010.0,852.5 1016.0,853.5 1021.9,852.1 1027.9,848.2 1033.8,849.5 1039.8,847.7 1045.7,854.1 1051.6,860.9 1057.6,859.0 1063.5,854.0 1069.5,847.9 1075.4,854.5 1081.4,855.6 1087.3,847.1 1093.2,850.9 1099.2,823.1 1105.1,870.6 1111.1,893.2 1117.0,827.6 1123.0,847.9 1128.9,864.2 1134.9,841.8 1140.8,838.7 1146.7,855.2 1152.7,870.6 1158.6,884.2 1164.6,832.1 1170.5,857.0 1176.5,848.7 1182.4,845.0 1188.4,860.9 1194.3,870.6 1200.2,845.9 1206.2,855.0 1212.1,834.4" stroke="#036baf" stroke-width="6.0" fill="none" stroke-linejoin="round" stroke-linecap="round" stroke-dasharray="31.2 39.6" stroke-dashoffset="0.0"/>
<polyline points="1212.1,834.4 1218.1,768.7 1224.0,847.9 1230.0,845.1 1235.9,852.3 1241.8,849.9 1247.8,873.7 1253.7,858.4 1259.7,862.5 1265.6,856.3 1271.6,856.6 1277.5,854.5 1283.5,851.6 1289.4,847.3 1295.3,851.5 1301.3,859.9 1307.2,857.3 1313.2,830.7" stroke="#036baf" stroke-width="6.0" fill="none" stroke-linejoin="round" stroke-linecap="round" stroke-dasharray="31.2 39.6" stroke-dashoffset="53.6"/>
<polyline points="1313.2,830.7 1319.1,804.5" stroke="#036baf" stroke-width="6.0" fill="none" stroke-linejoin="round" stroke-linecap="round" stroke-dasharray="31.2 39.6" stroke-dashoffset="33.1"/>
<polyline points="1319.1,804.5 1325.1,897.3" stroke="#036baf" stroke-width="6.0" fill="none" stroke-linejoin="round" stroke-linecap="round" stroke-dasharray="31.2 39.6" stroke-dashoffset="0.0"/>
<polyline points="1325.1,897.3 1331.0,947.5" stroke="#036baf" stroke-width="6.0" fill="none" stroke-linejoin="round" stroke-linecap="round" stroke-dasharray="31.2 39.6" stroke-dashoffset="0.0"/>
<polyline points="1331.0,947.5 1337.0,863.8 1342.9,846.4 1348.8,853.8 1354.8,858.5 1360.7,853.6 1366.7,853.7 1372.6,860.2 1378.6,857.6 1384.5,841.2 1390.4,842.3 1396.4,856.8 1402.3,852.5 1408.3,827.6 1414.2,888.7 1420.2,861.5 1426.1,852.5" stroke="#036baf" stroke-width="6.0" fill="none" stroke-linejoin="round" stroke-linecap="round" stroke-dasharray="31.2 39.6" stroke-dashoffset="0.0"/>
<polyline points="1426.1,852.5 1432.1,786.8 1438.0,857.0 1443.9,828.9 1449.9,861.5 1455.8,864.9 1461.8,867.4 1467.7,861.5 1473.7,854.7 1479.6,852.0 1485.6,857.0 1491.5,859.5 1497.4,853.4 1503.4,832.6 1509.3,843.9" stroke="#036baf" stroke-width="6.0" fill="none" stroke-linejoin="round" stroke-linecap="round" stroke-dasharray="31.2 39.6" stroke-dashoffset="16.9"/>
<polyline points="1509.3,843.9 1515.3,595.8 1521.2,838.9 1527.2,852.5 1533.1,849.4 1539.0,855.0 1545.0,853.3 1550.9,854.8 1556.9,856.2 1562.8,856.5 1568.8,863.3 1574.7,856.1 1580.7,843.2 1586.6,846.0 1592.5,851.5 1598.5,861.1 1604.4,865.7 1610.4,852.7 1616.3,841.1 1622.3,847.2 1628.2,855.4 1634.2,867.7 1640.1,862.2 1646.0,854.6 1652.0,864.6 1657.9,857.7 1663.9,857.7 1669.8,851.7 1675.8,843.1 1681.7,846.4 1687.6,850.3 1693.6,861.3 1699.5,858.7 1705.5,863.7 1711.4,868.3 1717.4,866.1 1723.3,865.4 1729.3,852.4 1735.2,847.3 1741.1,860.2" stroke="#036baf" stroke-width="6.0" fill="none" stroke-linejoin="round" stroke-linecap="round" stroke-dasharray="31.2 39.6" stroke-dashoffset="32.1"/>
<polyline points="700.9,848.4 706.9,854.7 712.8,850.2 718.8,857.0 724.7,846.6 730.7,852.5 736.6,854.3 742.6,848.4 748.5,854.7 754.4,857.0 760.4,860.6 766.3,863.8 772.3,852.5 778.2,834.4 784.2,852.5 790.1,857.0 796.0,840.7 802.0,852.5 807.9,857.0 813.9,854.7 819.8,863.8 825.8,857.0 831.7,861.5 837.7,871.5 843.6,847.8 849.5,853.5 855.5,860.2 861.4,879.6" stroke="#009200" stroke-width="6.0" fill="none" stroke-linejoin="round" stroke-linecap="round" stroke-dasharray="7.2 34.8" stroke-dashoffset="0.0"/>
<polyline points="861.4,879.6 867.4,997.3" stroke="#009200" stroke-width="6.0" fill="none" stroke-linejoin="round" stroke-linecap="round" stroke-dasharray="7.2 34.8" stroke-dashoffset="0.0"/>
<polyline points="867.4,997.3 873.3,879.6" stroke="#009200" stroke-width="6.0" fill="none" stroke-linejoin="round" stroke-linecap="round" stroke-dasharray="7.2 34.8" stroke-dashoffset="0.0"/>
<polyline points="873.3,879.6 879.3,865.1 885.2,850.4 891.2,853.6 897.1,854.8 903.0,843.6 909.0,855.1 914.9,855.9 920.9,844.9 926.8,848.9 932.8,857.8 938.7,851.2 944.6,844.9 950.6,839.2 956.5,844.4 962.5,864.7 968.4,867.8 974.4,868.1 980.3,866.3 986.3,833.0 992.2,858.5 998.1,859.4 1004.1,833.5 1010.0,854.0 1016.0,836.6 1021.9,843.4 1027.9,811.7 1033.8,887.8" stroke="#009200" stroke-width="6.0" fill="none" stroke-linejoin="round" stroke-linecap="round" stroke-dasharray="7.2 34.8" stroke-dashoffset="0.0"/>
<polyline points="1033.8,887.8 1039.8,1377.5" stroke="#009200" stroke-width="6.0" fill="none" stroke-linejoin="round" stroke-linecap="round" stroke-dasharray="7.2 34.8" stroke-dashoffset="0.0"/>
<polyline points="1039.8,1377.5 1045.7,897.7" stroke="#009200" stroke-width="6.0" fill="none" stroke-linejoin="round" stroke-linecap="round" stroke-dasharray="7.2 34.8" stroke-dashoffset="0.0"/>
<polyline points="1045.7,897.7 1051.6,857.0 1057.6,855.0 1063.5,857.8 1069.5,859.3 1075.4,861.2 1081.4,847.3 1087.3,848.0 1093.2,856.4 1099.2,853.4 1105.1,849.6 1111.1,851.4 1117.0,855.8 1123.0,857.1 1128.9,856.6 1134.9,848.0 1140.8,844.3 1146.7,835.3 1152.7,878.3" stroke="#009200" stroke-width="6.0" fill="none" stroke-linejoin="round" stroke-linecap="round" stroke-dasharray="7.2 34.8" stroke-dashoffset="0.0"/>
<polyline points="1152.7,878.3 1158.6,1142.6" stroke="#009200" stroke-width="6.0" fill="none" stroke-linejoin="round" stroke-linecap="round" stroke-dasharray="7.2 34.8" stroke-dashoffset="0.0"/>
<polyline points="1158.6,1142.6 1164.6,857.0" stroke="#009200" stroke-width="6.0" fill="none" stroke-linejoin="round" stroke-linecap="round" stroke-dasharray="7.2 34.8" stroke-dashoffset="0.0"/>
<polyline points="1164.6,857.0 1170.5,1168.4" stroke="#009200" stroke-width="6.0" fill="none" stroke-linejoin="round" stroke-linecap="round" stroke-dasharray="7.2 34.8" stroke-dashoffset="0.0"/>
<polyline points="1170.5,1168.4 1176.5,870.6" stroke="#009200" stroke-width="6.0" fill="none" stroke-linejoin="round" stroke-linecap="round" stroke-dasharray="7.2 34.8" stroke-dashoffset="0.0"/>
<polyline points="1176.5,870.6 1182.4,851.8 1188.4,864.1 1194.3,859.9 1200.2,846.7 1206.2,870.6" stroke="#009200" stroke-width="6.0" fill="none" stroke-linejoin="round" stroke-linecap="round" stroke-dasharray="7.2 34.8" stroke-dashoffset="0.0"/>
<polyline points="1206.2,870.6 1212.1,904.1" stroke="#009200" stroke-width="6.0" fill="none" stroke-linejoin="round" stroke-linecap="round" stroke-dasharray="7.2 34.8" stroke-dashoffset="0.0"/>
<polyline points="1212.1,904.1 1218.1,861.5" stroke="#009200" stroke-width="6.0" fill="none" stroke-linejoin="round" stroke-linecap="round" stroke-dasharray="7.2 34.8" stroke-dashoffset="0.0"/>
<polyline points="1218.1,861.5 1224.0,865.6 1230.0,865.8 1235.9,854.1 1241.8,847.6 1247.8,857.0 1253.7,881.0" stroke="#009200" stroke-width="6.0" fill="none" stroke-linejoin="round" stroke-linecap="round" stroke-dasharray="7.2 34.8" stroke-dashoffset="0.0"/>
<polyline points="1253.7,881.0 1259.7,743.9" stroke="#009200" stroke-width="6.0" fill="none" stroke-linejoin="round" stroke-linecap="round" stroke-dasharray="7.2 34.8" stroke-dashoffset="0.0"/>
<polyline points="1259.7,743.9 1265.6,857.0" stroke="#009200" stroke-width="6.0" fill="none" stroke-linejoin="round" stroke-linecap="round" stroke-dasharray="7.2 34.8" stroke-dashoffset="0.0"/>
<polyline points="1265.6,857.0 1271.6,863.2 1277.5,866.2 1283.5,867.7 1289.4,864.6 1295.3,854.9 1301.3,855.3 1307.2,865.9 1313.2,858.2 1319.1,850.4 1325.1,852.7 1331.0,855.2 1337.0,852.6 1342.9,843.6 1348.8,857.0 1354.8,816.3 1360.7,798.2 1366.7,820.8 1372.6,857.0 1378.6,847.7 1384.5,852.7 1390.4,856.2 1396.4,855.8 1402.3,853.5 1408.3,858.3 1414.2,863.3 1420.2,855.3 1426.1,841.4 1432.1,846.7 1438.0,850.5 1443.9,848.4 1449.9,859.0 1455.8,861.0 1461.8,852.6 1467.7,849.1 1473.7,852.5 1479.6,851.9 1485.6,848.3 1491.5,855.0 1497.4,860.3 1503.4,855.7 1509.3,854.6 1515.3,856.7 1521.2,855.5 1527.2,851.4 1533.1,846.4 1539.0,853.6 1545.0,854.6 1550.9,854.0 1556.9,857.0 1562.8,855.4 1568.8,859.0 1574.7,857.8 1580.7,854.2 1586.6,850.9 1592.5,856.6 1598.5,869.8 1604.4,868.1 1610.4,854.7 1616.3,853.9 1622.3,858.4 1628.2,857.9 1634.2,853.9 1640.1,852.2 1646.0,860.6 1652.0,863.7 1657.9,852.7 1663.9,846.0 1669.8,849.7 1675.8,850.3 1681.7,851.8 1687.6,859.2 1693.6,852.1 1699.5,847.5 1705.5,860.1 1711.4,865.4 1717.4,858.8 1723.3,850.0 1729.3,854.9 1735.2,863.5 1741.1,870.4" stroke="#009200" stroke-width="6.0" fill="none" stroke-linejoin="round" stroke-linecap="round" stroke-dasharray="7.2 34.8" stroke-dashoffset="0.0"/>
<polyline points="700.9,849.8 706.9,856.1 712.8,838.4 718.8,854.3 724.7,846.6 730.7,852.9 736.6,850.2 742.6,852.9 748.5,849.8 754.4,863.8 760.4,854.3 766.3,860.6 772.3,866.1 778.2,890.9 784.2,857.0" stroke="#b87bff" stroke-width="6.5" fill="none" stroke-linejoin="round" stroke-linecap="round" stroke-dasharray="37.2 21.6 6.0 22.8" stroke-dashoffset="0.0"/>
<polyline points="700.9,849.8 706.9,856.1 712.8,838.4 718.8,854.3 724.7,846.6 730.7,852.9 736.6,850.2 742.6,852.9 748.5,849.8 754.4,863.8 760.4,854.3 766.3,860.6 772.3,866.1 778.2,890.9 784.2,857.0" stroke="#fff" stroke-width="1.7" fill="none" stroke-linejoin="round" stroke-linecap="round" stroke-dasharray="37.2 21.6 6.0 22.8" stroke-dashoffset="0.0"/>
<polyline points="784.2,857.0 790.1,823.1 796.0,846.6 802.0,856.5 807.9,856.4 813.9,862.6 819.8,867.7 825.8,870.4 831.7,869.6 837.7,857.0 843.6,842.4 849.5,859.3" stroke="#b87bff" stroke-width="6.5" fill="none" stroke-linejoin="round" stroke-linecap="round" stroke-dasharray="37.2 21.6 6.0 22.8" stroke-dashoffset="2.7"/>
<polyline points="784.2,857.0 790.1,823.1 796.0,846.6 802.0,856.5 807.9,856.4 813.9,862.6 819.8,867.7 825.8,870.4 831.7,869.6 837.7,857.0 843.6,842.4 849.5,859.3" stroke="#fff" stroke-width="1.7" fill="none" stroke-linejoin="round" stroke-linecap="round" stroke-dasharray="37.2 21.6 6.0 22.8" stroke-dashoffset="2.7"/>
<polyline points="849.5,859.3 855.5,820.8 861.4,847.9 867.4,855.0 873.3,844.4 879.3,856.9 885.2,857.1 891.2,853.0 897.1,857.1 903.0,859.3" stroke="#b87bff" stroke-width="6.5" fill="none" stroke-linejoin="round" stroke-linecap="round" stroke-dasharray="37.2 21.6 6.0 22.8" stroke-dashoffset="85.9"/>
<polyline points="849.5,859.3 855.5,820.8 861.4,847.9 867.4,855.0 873.3,844.4 879.3,856.9 885.2,857.1 891.2,853.0 897.1,857.1 903.0,859.3" stroke="#fff" stroke-width="1.7" fill="none" stroke-linejoin="round" stroke-linecap="round" stroke-dasharray="37.2 21.6 6.0 22.8" stroke-dashoffset="85.9"/>
<polyline points="903.0,859.3 909.0,803.6 914.9,847.9 920.9,851.4 926.8,845.7 932.8,850.0 938.7,854.4 944.6,848.3 950.6,861.5 956.5,884.2 962.5,861.5 968.4,854.5 974.4,862.0 980.3,869.4 986.3,868.9 992.2,866.1" stroke="#b87bff" stroke-width="6.5" fill="none" stroke-linejoin="round" stroke-linecap="round" stroke-dasharray="37.2 21.6 6.0 22.8" stroke-dashoffset="68.8"/>
<polyline points="903.0,859.3 909.0,803.6 914.9,847.9 920.9,851.4 926.8,845.7 932.8,850.0 938.7,854.4 944.6,848.3 950.6,861.5 956.5,884.2 962.5,861.5 968.4,854.5 974.4,862.0 980.3,869.4 986.3,868.9 992.2,866.1" stroke="#fff" stroke-width="1.7" fill="none" stroke-linejoin="round" stroke-linecap="round" stroke-dasharray="37.2 21.6 6.0 22.8" stroke-dashoffset="68.8"/>
<polyline points="992.2,866.1 998.1,915.8 1004.1,847.9 1010.0,851.1 1016.0,851.0 1021.9,851.8 1027.9,848.4 1033.8,853.7 1039.8,860.1 1045.7,863.5 1051.6,861.4 1057.6,864.6 1063.5,866.2 1069.5,857.5 1075.4,858.3 1081.4,858.5 1087.3,854.0 1093.2,853.0 1099.2,854.4 1105.1,853.6 1111.1,851.8 1117.0,838.9 1123.0,857.0 1128.9,879.6" stroke="#b87bff" stroke-width="6.5" fill="none" stroke-linejoin="round" stroke-linecap="round" stroke-dasharray="37.2 21.6 6.0 22.8" stroke-dashoffset="74.7"/>
<polyline points="992.2,866.1 998.1,915.8 1004.1,847.9 1010.0,851.1 1016.0,851.0 1021.9,851.8 1027.9,848.4 1033.8,853.7 1039.8,860.1 1045.7,863.5 1051.6,861.4 1057.6,864.6 1063.5,866.2 1069.5,857.5 1075.4,858.3 1081.4,858.5 1087.3,854.0 1093.2,853.0 1099.2,854.4 1105.1,853.6 1111.1,851.8 1117.0,838.9 1123.0,857.0 1128.9,879.6" stroke="#fff" stroke-width="1.7" fill="none" stroke-linejoin="round" stroke-linecap="round" stroke-dasharray="37.2 21.6 6.0 22.8" stroke-dashoffset="74.7"/>
<polyline points="1128.9,879.6 1134.9,906.8 1140.8,857.0 1146.7,858.2 1152.7,869.9 1158.6,847.9" stroke="#b87bff" stroke-width="6.5" fill="none" stroke-linejoin="round" stroke-linecap="round" stroke-dasharray="37.2 21.6 6.0 22.8" stroke-dashoffset="9.4"/>
<polyline points="1128.9,879.6 1134.9,906.8 1140.8,857.0 1146.7,858.2 1152.7,869.9 1158.6,847.9" stroke="#fff" stroke-width="1.7" fill="none" stroke-linejoin="round" stroke-linecap="round" stroke-dasharray="37.2 21.6 6.0 22.8" stroke-dashoffset="9.4"/>
<polyline points="1158.6,847.9 1164.6,792.3 1170.5,861.5 1176.5,862.2 1182.4,858.5 1188.4,864.4 1194.3,860.6 1200.2,855.8 1206.2,862.3 1212.1,847.8 1218.1,850.7 1224.0,864.6 1230.0,861.0 1235.9,864.5 1241.8,854.5 1247.8,849.2 1253.7,858.6 1259.7,855.1 1265.6,849.7 1271.6,858.9 1277.5,865.3 1283.5,879.6" stroke="#b87bff" stroke-width="6.5" fill="none" stroke-linejoin="round" stroke-linecap="round" stroke-dasharray="37.2 21.6 6.0 22.8" stroke-dashoffset="68.8"/>
<polyline points="1158.6,847.9 1164.6,792.3 1170.5,861.5 1176.5,862.2 1182.4,858.5 1188.4,864.4 1194.3,860.6 1200.2,855.8 1206.2,862.3 1212.1,847.8 1218.1,850.7 1224.0,864.6 1230.0,861.0 1235.9,864.5 1241.8,854.5 1247.8,849.2 1253.7,858.6 1259.7,855.1 1265.6,849.7 1271.6,858.9 1277.5,865.3 1283.5,879.6" stroke="#fff" stroke-width="1.7" fill="none" stroke-linejoin="round" stroke-linecap="round" stroke-dasharray="37.2 21.6 6.0 22.8" stroke-dashoffset="68.8"/>
<polyline points="1283.5,879.6 1289.4,1898.0 1295.3,879.6 1301.3,854.8 1307.2,871.7 1313.2,856.9 1319.1,841.4 1325.1,857.0 1331.0,860.8 1337.0,857.0" stroke="#b87bff" stroke-width="6.5" fill="none" stroke-linejoin="round" stroke-linecap="round" stroke-dasharray="37.2 21.6 6.0 22.8" stroke-dashoffset="70.0"/>
<polyline points="1283.5,879.6 1289.4,1898.0 1295.3,879.6 1301.3,854.8 1307.2,871.7 1313.2,856.9 1319.1,841.4 1325.1,857.0 1331.0,860.8 1337.0,857.0" stroke="#fff" stroke-width="1.7" fill="none" stroke-linejoin="round" stroke-linecap="round" stroke-dasharray="37.2 21.6 6.0 22.8" stroke-dashoffset="70.0"/>
<polyline points="1337.0,857.0 1342.9,775.5 1348.8,861.5 1354.8,859.5 1360.7,864.2 1366.7,859.4 1372.6,849.2 1378.6,850.9 1384.5,848.4 1390.4,851.7 1396.4,860.4 1402.3,850.4 1408.3,844.8 1414.2,844.8 1420.2,845.8 1426.1,848.2 1432.1,853.7 1438.0,850.0 1443.9,847.3 1449.9,852.0 1455.8,851.8 1461.8,859.6 1467.7,857.1 1473.7,847.1 1479.6,852.6 1485.6,852.6 1491.5,849.4 1497.4,855.0 1503.4,863.4 1509.3,863.2 1515.3,855.9 1521.2,858.3 1527.2,848.0 1533.1,844.1 1539.0,861.9 1545.0,856.6 1550.9,854.8 1556.9,858.5 1562.8,854.1 1568.8,850.9 1574.7,849.5 1580.7,856.3 1586.6,855.2 1592.5,849.1 1598.5,850.3 1604.4,861.8 1610.4,866.1" stroke="#b87bff" stroke-width="6.5" fill="none" stroke-linejoin="round" stroke-linecap="round" stroke-dasharray="37.2 21.6 6.0 22.8" stroke-dashoffset="69.0"/>
<polyline points="1337.0,857.0 1342.9,775.5 1348.8,861.5 1354.8,859.5 1360.7,864.2 1366.7,859.4 1372.6,849.2 1378.6,850.9 1384.5,848.4 1390.4,851.7 1396.4,860.4 1402.3,850.4 1408.3,844.8 1414.2,844.8 1420.2,845.8 1426.1,848.2 1432.1,853.7 1438.0,850.0 1443.9,847.3 1449.9,852.0 1455.8,851.8 1461.8,859.6 1467.7,857.1 1473.7,847.1 1479.6,852.6 1485.6,852.6 1491.5,849.4 1497.4,855.0 1503.4,863.4 1509.3,863.2 1515.3,855.9 1521.2,858.3 1527.2,848.0 1533.1,844.1 1539.0,861.9 1545.0,856.6 1550.9,854.8 1556.9,858.5 1562.8,854.1 1568.8,850.9 1574.7,849.5 1580.7,856.3 1586.6,855.2 1592.5,849.1 1598.5,850.3 1604.4,861.8 1610.4,866.1" stroke="#fff" stroke-width="1.7" fill="none" stroke-linejoin="round" stroke-linecap="round" stroke-dasharray="37.2 21.6 6.0 22.8" stroke-dashoffset="69.0"/>
<polyline points="1610.4,866.1 1616.3,805.0 1622.3,866.1 1628.2,850.6 1634.2,852.7 1640.1,856.1 1646.0,858.0 1652.0,859.9 1657.9,853.2 1663.9,850.1 1669.8,861.4 1675.8,869.1 1681.7,856.2 1687.6,850.4 1693.6,852.0 1699.5,846.9 1705.5,861.5" stroke="#b87bff" stroke-width="6.5" fill="none" stroke-linejoin="round" stroke-linecap="round" stroke-dasharray="37.2 21.6 6.0 22.8" stroke-dashoffset="66.7"/>
<polyline points="1610.4,866.1 1616.3,805.0 1622.3,866.1 1628.2,850.6 1634.2,852.7 1640.1,856.1 1646.0,858.0 1652.0,859.9 1657.9,853.2 1663.9,850.1 1669.8,861.4 1675.8,869.1 1681.7,856.2 1687.6,850.4 1693.6,852.0 1699.5,846.9 1705.5,861.5" stroke="#fff" stroke-width="1.7" fill="none" stroke-linejoin="round" stroke-linecap="round" stroke-dasharray="37.2 21.6 6.0 22.8" stroke-dashoffset="66.7"/>
<polyline points="1705.5,861.5 1711.4,992.8 1717.4,861.5 1723.3,854.7 1729.3,849.5 1735.2,847.2 1741.1,857.7" stroke="#b87bff" stroke-width="6.5" fill="none" stroke-linejoin="round" stroke-linecap="round" stroke-dasharray="37.2 21.6 6.0 22.8" stroke-dashoffset="81.0"/>
<polyline points="1705.5,861.5 1711.4,992.8 1717.4,861.5 1723.3,854.7 1729.3,849.5 1735.2,847.2 1741.1,857.7" stroke="#fff" stroke-width="1.7" fill="none" stroke-linejoin="round" stroke-linecap="round" stroke-dasharray="37.2 21.6 6.0 22.8" stroke-dashoffset="81.0"/>
</g>
<line x1="1365.5" y1="630.7" x2="1374" y2="630.7" stroke="#444" stroke-width="1.8"/>
<line x1="1365.5" y1="743.9" x2="1370.5" y2="743.9" stroke="#444" stroke-width="1.8"/>
<line x1="1365.5" y1="857.0" x2="1374" y2="857.0" stroke="#444" stroke-width="1.8"/>
<line x1="1365.5" y1="970.1" x2="1370.5" y2="970.1" stroke="#444" stroke-width="1.8"/>
<line x1="1438.0" y1="1001.5" x2="1438.0" y2="996" stroke="#444" stroke-width="1.8"/>
<line x1="1586.6" y1="1001.5" x2="1586.6" y2="992.5" stroke="#444" stroke-width="1.8"/>
<line x1="1735.2" y1="1001.5" x2="1735.2" y2="996" stroke="#444" stroke-width="1.8"/>
<line x1="1883.8" y1="1001.5" x2="1883.8" y2="992.5" stroke="#444" stroke-width="1.8"/>
<g font-family="'Liberation Serif','Times New Roman',serif" font-size="35" font-weight="bold" fill="#000">
<text x="1356" y="642.2" text-anchor="end">50</text>
<text x="1356" y="868.5" text-anchor="end">0</text>
<text x="1586.6" y="1039" text-anchor="middle">150</text>
<text x="1883.8" y="1039" text-anchor="middle">200</text>
</g>
<g font-family="'Liberation Serif','Times New Roman',serif" font-size="28" fill="#000" text-anchor="middle">
<text x="1671" y="1053">Time/s</text>
<text transform="translate(1312,784.5) rotate(-90)">Estimated value</text>
</g>
<path d="M1390.6 400.8 C1387 420 1387.5 440 1388 450 C1389 470 1394 490 1395 505 L1397 527" fill="none" stroke="#000" stroke-width="2.4"/>
<path d="M1375 528.5 L1419.2 525.9 L1401 571.1 Z" fill="#000"/>
</svg></body></html>
